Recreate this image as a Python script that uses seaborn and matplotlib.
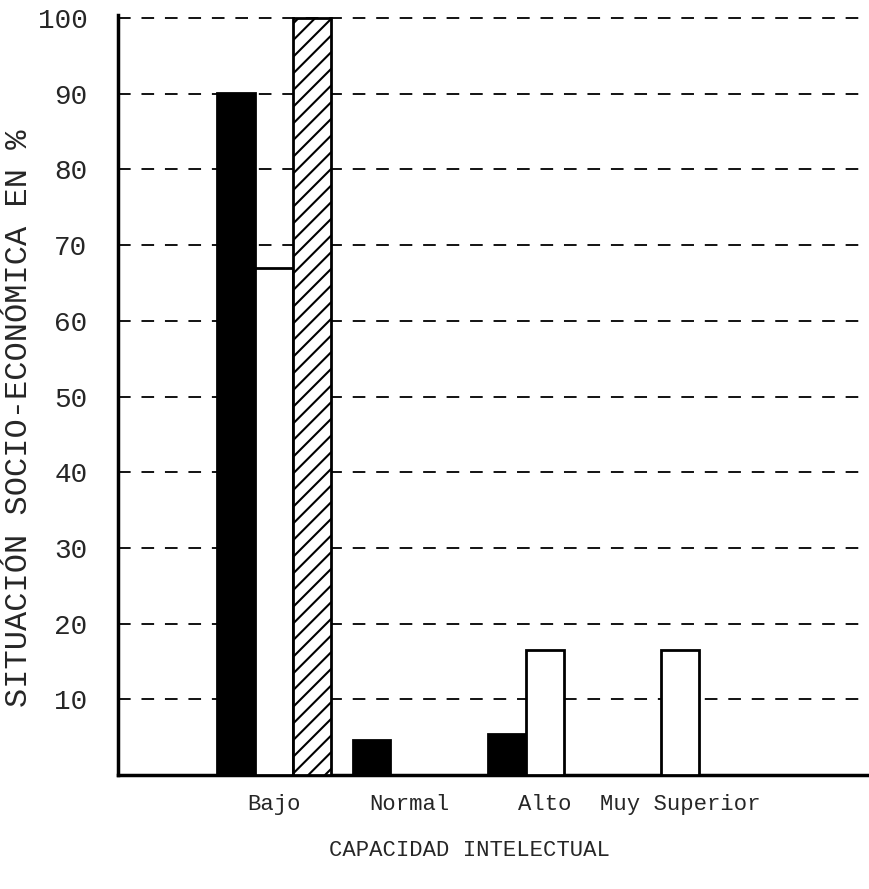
import matplotlib
matplotlib.use("Agg")
import matplotlib.pyplot as plt
import seaborn as sns
import pandas as pd

# ---- data ----
categories = ["Bajo", "Normal", "Alto", "Muy Superior"]
series = ["S1", "S2", "S3"]
s1_values = [90.1, 4.6, 5.4, 0.0]
s2_values = [67.0, 0.0, 16.5, 16.5]
s3_values = [100.0, 0.0, 0.0, 0.0]
y_ticks = [10, 20, 30, 40, 50, 60, 70, 80, 90, 100]

rows = []
for name, vals in zip(series, [s1_values, s2_values, s3_values]):
    for c, v in zip(categories, vals):
        rows.append({"cat": c, "serie": name, "val": v})
df = pd.DataFrame(rows)

sns.set_style("white")
plt.rcParams["font.family"] = ["Liberation Mono", "DejaVu Sans Mono"]
plt.rcParams["hatch.linewidth"] = 1.5
plt.rcParams["hatch.color"] = "black"

fig = plt.figure(figsize=(8.7, 8.89), dpi=100)
ax = fig.add_axes([118 / 870, 1 - 775 / 889, 752 / 870, (775 - 15) / 889])

palette = {"S1": "black", "S2": "white", "S3": "white"}
sns.barplot(data=df, x="cat", y="val", hue="serie", order=categories,
            hue_order=series, palette=palette, width=0.84, dodge=True,
            edgecolor="black", linewidth=2, legend=False, ax=ax, zorder=3,
            saturation=1)
for patch in ax.containers[2]:
    patch.set_hatch("//")

ax.set_xlim(-1.151, 4.40)
ax.set_ylim(0, 100.4)
ax.set_yticks(y_ticks)
ax.set_yticklabels([str(t) for t in y_ticks], fontsize=20)
ax.tick_params(axis="y", length=0, pad=22)
ax.tick_params(axis="x", length=0, pad=14, labelsize=16)

ax.yaxis.grid(True, color="black", linestyle=(0, (7, 6)), linewidth=1.3)
ax.xaxis.grid(False)
ax.set_axisbelow(True)

for s in ["top", "right"]:
    ax.spines[s].set_visible(False)
for s in ["left", "bottom"]:
    ax.spines[s].set_color("black")
    ax.spines[s].set_linewidth(2.5)

ax.set_ylabel("SITUACIÓN SOCIO-ECONÓMICA EN %", fontsize=23)
ax.yaxis.set_label_coords(-0.112, 0.47)
ax.set_xlabel("CAPACIDAD INTELECTUAL", fontsize=16)
ax.xaxis.set_label_coords(0.468, -0.085)

fig.savefig("out.png", dpi=100)
